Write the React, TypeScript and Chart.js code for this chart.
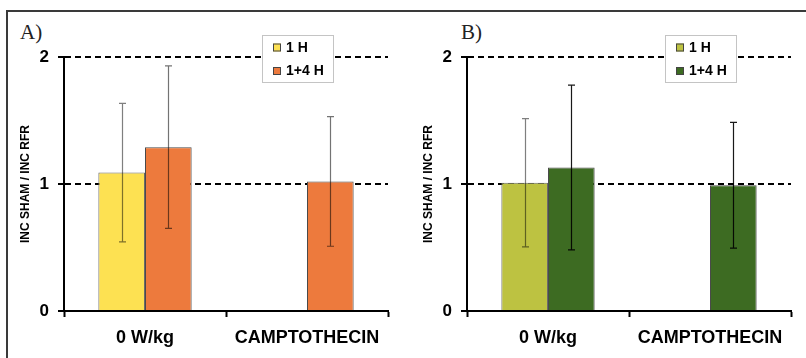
import React, { useEffect, useRef } from 'react';
import { Chart, registerables } from 'chart.js';

Chart.register(...registerables);

const categories = ['0 W/kg', 'CAMPTOTHECIN'];
const seriesLabels = ['1 H', '1+4 H'];
const yTicks = [0, 1, 2];
const yTitle = 'INC SHAM / INC RFR';

const panelAOneH = [1.09, null];
const panelAOneFourH = [1.29, 1.02];
const panelAOneHErr = [0.545, null];
const panelAOneFourHErr = [0.64, 0.51];

const panelBOneH = [1.01, null];
const panelBOneFourH = [1.13, 0.99];
const panelBOneHErr = [0.505, null];
const panelBOneFourHErr = [0.648, 0.495];

const FONT = '"Liberation Sans", Arial, sans-serif';

const errorBarPlugin = {
  id: 'errorBars',
  afterDatasetsDraw(chart: any) {
    const ctx = chart.ctx;
    const yScale = chart.scales.y;
    chart.data.datasets.forEach((ds: any, i: number) => {
      const meta = chart.getDatasetMeta(i);
      meta.data.forEach((bar: any, j: number) => {
        const v = ds.data[j];
        const e = ds.errors ? ds.errors[j] : null;
        if (v == null || e == null) return;
        const x = Math.round(bar.x) + 0.5;
        const yTop = yScale.getPixelForValue(v + e);
        const yBot = yScale.getPixelForValue(v - e);
        ctx.save();
        ctx.strokeStyle = ds.errorColor || 'rgba(0,0,0,0.5)';
        ctx.lineWidth = 1.2;
        ctx.beginPath();
        ctx.moveTo(x, yTop);
        ctx.lineTo(x, yBot);
        ctx.moveTo(x - 3.5, yTop);
        ctx.lineTo(x + 3.5, yTop);
        ctx.moveTo(x - 3.5, yBot);
        ctx.lineTo(x + 3.5, yBot);
        ctx.stroke();
        ctx.restore();
      });
    });
  },
};

const boxLegendPlugin = {
  id: 'boxLegend',
  afterDraw(chart: any) {
    const ctx = chart.ctx;
    const area = chart.chartArea;
    const x0 = area.left + 198;
    const y0 = 35;
    const w = 71;
    const h = 47;
    ctx.save();
    ctx.fillStyle = '#fff';
    ctx.fillRect(x0, y0, w, h);
    ctx.strokeStyle = '#c4c4c4';
    ctx.lineWidth = 1;
    ctx.strokeRect(x0 + 0.5, y0 + 0.5, w, h);
    const rows = [y0 + 12.5, y0 + 36];
    chart.data.datasets.forEach((ds: any, i: number) => {
      const cy = rows[i];
      ctx.fillStyle = ds.backgroundColor;
      ctx.fillRect(x0 + 11, cy - 4, 8, 8);
      ctx.strokeStyle = '#444';
      ctx.lineWidth = 1;
      ctx.strokeRect(x0 + 11.5, cy - 3.5, 7, 7);
      ctx.fillStyle = '#000';
      ctx.font = `bold 14px ${FONT}`;
      ctx.textBaseline = 'middle';
      ctx.textAlign = 'left';
      ctx.fillText(ds.label, x0 + 24, cy + 0.5);
    });
    ctx.restore();
  },
};

function makeConfig(
  d1: (number | null)[],
  d2: (number | null)[],
  e1: (number | null)[],
  e2: (number | null)[],
  c1: string,
  c2: string,
  ec1: string,
  ec2: string
): any {
  return {
    type: 'bar',
    data: {
      labels: categories,
      datasets: [
        {
          label: seriesLabels[0],
          data: d1,
          errors: e1,
          errorColor: ec1,
          backgroundColor: c1,
          borderColor: '#6b6b6b',
          borderWidth: 1,
        },
        {
          label: seriesLabels[1],
          data: d2,
          errors: e2,
          errorColor: ec2,
          backgroundColor: c2,
          borderColor: '#4a4a4a',
          borderWidth: 1,
        },
      ],
    },
    options: {
      animation: false,
      responsive: false,
      maintainAspectRatio: false,
      layout: { padding: { top: 57, right: 15, bottom: 0, left: 0 } },
      plugins: { legend: { display: false }, tooltip: { enabled: false } },
      datasets: { bar: { categoryPercentage: 0.576, barPercentage: 1 } },
      scales: {
        x: {
          grid: {
            display: true,
            drawOnChartArea: false,
            drawTicks: true,
            tickLength: 6,
            tickColor: '#000',
            tickWidth: 2,
            offset: true,
          },
          border: { display: true, color: '#000', width: 2 },
          ticks: {
            color: '#000',
            font: { family: FONT, size: 18, weight: 'bold' },
            padding: 10,
            maxRotation: 0,
            autoSkip: false,
          },
          afterFit: (s: any) => {
            s.height = 47;
          },
        },
        y: {
          min: 0,
          max: 2,
          afterBuildTicks: (s: any) => {
            s.ticks = yTicks.map((v) => ({ value: v }));
          },
          ticks: {
            color: '#000',
            padding: 9,
            font: { family: FONT, size: 17, weight: 'bold' },
            callback: (v: any) => String(v),
          },
          grid: {
            color: (c: any) => (c.tick && c.tick.value === 0 ? 'rgba(0,0,0,0)' : '#000'),
            lineWidth: 2,
            tickColor: '#000',
            tickLength: 6,
            tickWidth: 2,
            tickBorderDash: [],
          },
          border: { display: true, color: '#000', width: 2, dash: [6, 4] },
          title: {
            display: true,
            text: yTitle,
            color: '#000',
            font: { family: FONT, size: 12, weight: 'bold' },
            padding: { top: 18, bottom: 0 },
          },
          afterFit: (s: any) => {
            s.width = 64;
          },
        },
      },
    },
    plugins: [errorBarPlugin, boxLegendPlugin],
  };
}

function Panel(props: { config: any; left: number }) {
  const ref = useRef<HTMLCanvasElement | null>(null);
  useEffect(() => {
    if (!ref.current) return;
    const chart = new Chart(ref.current, props.config);
    return () => chart.destroy();
  }, []);
  return (
    <canvas
      ref={ref}
      width={403}
      height={358}
      style={{ position: 'absolute', left: props.left, top: 0, width: 403, height: 358 }}
    />
  );
}

export default function App() {
  const cfgA = makeConfig(
    panelAOneH,
    panelAOneFourH,
    panelAOneHErr,
    panelAOneFourHErr,
    '#FDE152',
    '#ED7A3D',
    'rgba(0,0,0,0.5)',
    'rgba(0,0,0,0.55)'
  );
  const cfgB = makeConfig(
    panelBOneH,
    panelBOneFourH,
    panelBOneHErr,
    panelBOneFourHErr,
    '#BDC241',
    '#3D6B22',
    'rgba(0,0,0,0.5)',
    'rgba(0,0,0,0.9)'
  );
  const titleStyle: React.CSSProperties = {
    position: 'absolute',
    top: 20,
    fontFamily: '"Liberation Serif", "Times New Roman", serif',
    fontSize: 21,
    color: '#222',
    lineHeight: '24px',
  };
  return (
    <div
      style={{
        position: 'absolute',
        left: 0,
        top: 0,
        width: 806,
        height: 358,
        overflow: 'hidden',
        background: '#fff',
      }}
    >
      <div
        style={{
          position: 'absolute',
          left: 6,
          top: 10,
          width: 820,
          height: 400,
          borderLeft: '2px solid #3a3a3a',
          borderTop: '2px solid #3a3a3a',
        }}
      />
      <div style={{ ...titleStyle, left: 20 }}>A)</div>
      <div style={{ ...titleStyle, left: 461 }}>B)</div>
      <Panel config={cfgA} left={0} />
      <Panel config={cfgB} left={403} />
    </div>
  );
}
